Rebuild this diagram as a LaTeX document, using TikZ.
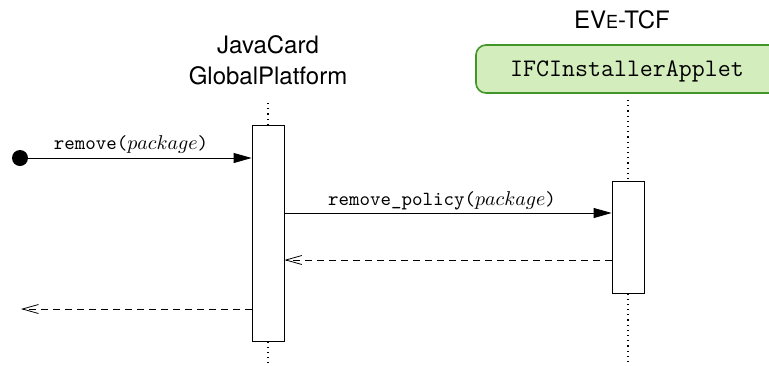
\documentclass[tikz,border=0pt]{standalone}
\usepackage{fontspec}
\setsansfont{TeX Gyre Heros}
\usetikzlibrary{arrows.meta}
\definecolor{boxfill}{RGB}{212,237,188}
\definecolor{boxdraw}{RGB}{66,150,40}
\tikzset{
  actbox/.style={draw, fill=white, minimum width=16pt, inner sep=0pt},
  lifeline/.style={dotted, line width=0.6pt},
  msg/.style={-{Triangle[length=9pt,width=5pt]}},
  ret/.style={dash pattern=on 3.5pt off 2.5pt, -{Straight Barb[length=8pt,width=4.5pt]}},
  hdr/.style={font=\sffamily\large, anchor=base, inner sep=0pt},
  lbl/.style={font=\ttfamily, anchor=base, inner sep=0pt},
  objbox/.style={draw=boxdraw, fill=boxfill, line width=0.8pt, rounded corners=5pt,
    minimum width=152pt, minimum height=24pt}
}
\begin{document}
\begin{tikzpicture}[x=0.5pt,y=-0.5pt]
\useasboundingbox (0,0) rectangle (769,365);
% headers
\node[hdr] (jc1) at (268,53) {JavaCard};
\node[hdr] (jc2) at (268,84) {GlobalPlatform};
\node[hdr] (eve) at (622,28) {EV{\fontsize{9}{10}\selectfont E}-TCF};
\node[objbox] (ifc) at (628,69) {};
\node[font=\ttfamily\fontsize{12.6}{15}\selectfont, anchor=base, inner sep=0pt] (ifct) at (627,76) {IFCInstallerApplet};
% activation boxes
\node[actbox, minimum height=108pt] (act1) at (268,233) {};
\node[actbox, minimum height=56pt] (act2) at (628,237) {};
% lifelines
\coordinate (l1top) at (268,103);
\coordinate (l1bot) at (268,365);
\coordinate (l2top) at (628,100);
\coordinate (l2bot) at (628,365);
\draw[lifeline] (l1top) -- (act1.north);
\draw[lifeline] (act1.south) -- (l1bot);
\draw[lifeline] (l2top) -- (act2.north);
\draw[lifeline] (act2.south) -- (l2bot);
% start dot
\node[circle, fill=black, minimum size=8pt, inner sep=0pt] (start) at (20,158) {};
\draw[msg] (start) -- (start -| act1.west);
\node[lbl] (m1) at (131,149) {remove($package$)};
% remove_policy
\coordinate (m2s) at (act1.east |- 0,213);
\draw[msg] (m2s) -- (m2s -| act2.west);
\node[lbl] (m2) at (442,205) {remove\_policy($package$)};
% returns
\coordinate (r1s) at (act2.west |- 0,260);
\draw[ret] (r1s) -- (r1s -| act1.east);
\coordinate (r2s) at (act1.west |- 0,309);
\coordinate (r2e) at (21,309);
\draw[ret] (r2s) -- (r2e);
\end{tikzpicture}
\end{document}
